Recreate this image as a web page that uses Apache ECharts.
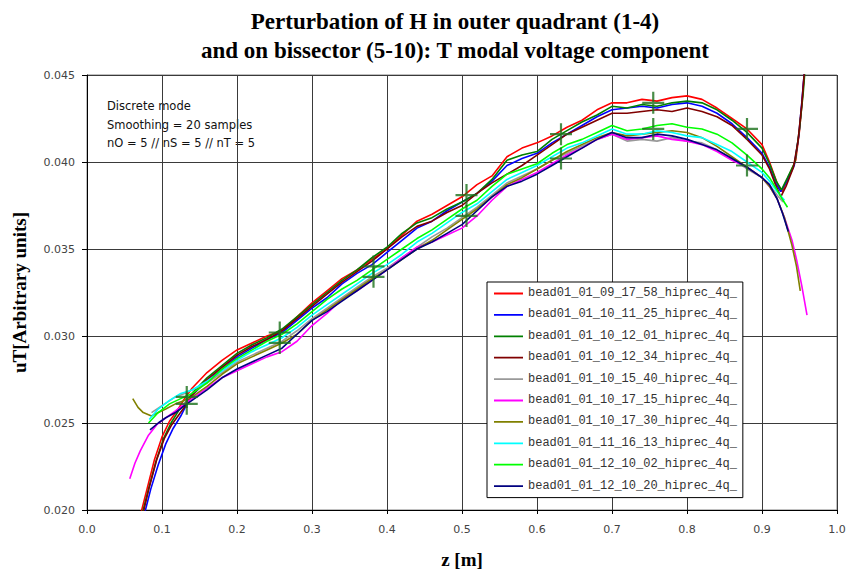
<!DOCTYPE html>
<html lang="en">
<head>
    <meta charset="UTF-8">
    <title>T modal voltage component</title>
    <script src="https://cdn.jsdelivr.net/npm/echarts@6/dist/echarts.min.js"></script>
    <style>
        *{ margin: 0; padding: 0; }
        body{ background-color: #fff; overflow: hidden; }
        #main{ width: 850px; height: 574px; }
    </style>
</head>
<body>
<div id="main"></div>
<script>
    // shared z positions [m] of the middle part of every curve
    var zBody = [0.14,0.16,0.18,0.20,0.22,0.24,0.26,0.28,0.30,0.32,0.34,0.36,0.38,0.40,0.42,0.44,0.46,0.48,0.50,
                 0.52,0.54,0.56,0.58,0.60,0.62,0.64,0.66,0.68,0.70,0.72,0.74,0.76,0.78,0.80,0.82,0.84,0.86,0.88,0.90];

    // outer quadrant runs (1-4)
    var redHead = [[0.07,0.0195],[0.08,0.0212],[0.09,0.0229],[0.10,0.0242],[0.11,0.0251],[0.12,0.0257],[0.13,0.0264]];
    var redBody = [0.0270,0.0279,0.0286,0.0292,0.0296,0.0300,0.0303,0.0311,0.0319,0.0326,0.0333,0.0338,0.0344,0.0350,0.0358,0.0366,0.0370,0.0375,0.0380,
                   0.0387,0.0392,0.0403,0.0408,0.0411,0.0415,0.0420,0.0424,0.0430,0.0434,0.0434,0.0436,0.0435,0.0437,0.0438,0.0436,0.0431,0.0425,0.0419,0.0410];
    var redTail = [[0.91,0.0400],[0.92,0.0388],[0.927,0.0383],[0.935,0.0391],[0.945,0.0401],[0.950,0.0418],[0.954,0.0437],[0.958,0.0460]];

    var blueHead = [[0.075,0.0195],[0.085,0.0212],[0.095,0.0226],[0.105,0.0238],[0.115,0.0247],[0.125,0.0254],[0.132,0.0260]];
    var blueBody = [0.0266,0.0274,0.0281,0.0288,0.0293,0.0298,0.0302,0.0309,0.0316,0.0322,0.0330,0.0336,0.0341,0.0348,0.0355,0.0362,0.0366,0.0372,0.0377,
                    0.0382,0.0389,0.0398,0.0402,0.0405,0.0411,0.0416,0.0421,0.0426,0.0430,0.0431,0.0432,0.0431,0.0433,0.0434,0.0432,0.0428,0.0422,0.0414,0.0405];
    var blueTail = [[0.91,0.0397],[0.918,0.0388],[0.925,0.0383],[0.933,0.0389],[0.943,0.0398],[0.949,0.0415],[0.953,0.0434],[0.958,0.0460]];

    var greenHead = [[0.072,0.0195],[0.082,0.0212],[0.092,0.0228],[0.102,0.0241],[0.112,0.0250],[0.122,0.0257],[0.132,0.0262]];
    var greenBody = [0.0267,0.0276,0.0283,0.0290,0.0295,0.0299,0.0304,0.0311,0.0318,0.0325,0.0332,0.0338,0.0345,0.0351,0.0359,0.0365,0.0368,0.0373,0.0377,
                     0.0382,0.0390,0.0401,0.0404,0.0406,0.0413,0.0418,0.0423,0.0427,0.0432,0.0431,0.0433,0.0432,0.0434,0.0435,0.0434,0.0430,0.0424,0.0417,0.0408];
    var greenTail = [[0.91,0.0399],[0.919,0.0389],[0.926,0.0384],[0.934,0.0391],[0.944,0.0400],[0.950,0.0419],[0.955,0.0440],[0.959,0.0462]];

    var brownHead = [[0.073,0.0195],[0.083,0.0213],[0.093,0.0229],[0.103,0.0241],[0.113,0.0249],[0.123,0.0255],[0.133,0.0261]];
    var brownBody = [0.0266,0.0275,0.0282,0.0289,0.0294,0.0298,0.0303,0.0310,0.0317,0.0324,0.0331,0.0337,0.0343,0.0350,0.0357,0.0363,0.0366,0.0371,0.0375,
                     0.0382,0.0388,0.0393,0.0398,0.0404,0.0410,0.0416,0.0420,0.0424,0.0428,0.0428,0.0429,0.0430,0.0429,0.0431,0.0429,0.0426,0.0421,0.0413,0.0404];
    var brownTail = [[0.91,0.0396],[0.918,0.0387],[0.925,0.0380],[0.932,0.0386],[0.942,0.0397],[0.948,0.0412],[0.953,0.0433],[0.958,0.0460]];

    // bissector runs (5-10)
    var grayHead = [[0.086,0.0256],[0.10,0.0260],[0.118,0.0265],[0.13,0.0267]];
    var grayBody = [0.0269,0.0273,0.0279,0.0285,0.0289,0.0293,0.0297,0.0303,0.0310,0.0316,0.0322,0.0328,0.0334,0.0339,0.0345,0.0351,0.0357,0.0362,0.0368,
                    0.0374,0.0381,0.0388,0.0392,0.0396,0.0401,0.0405,0.0409,0.0413,0.0416,0.0412,0.0413,0.0412,0.0414,0.0412,0.0411,0.0407,0.0402,0.0396,0.0391];
    var grayTail = [[0.91,0.0387],[0.92,0.0381],[0.928,0.0377]];

    var magentaHead = [[0.057,0.0218],[0.064,0.0227],[0.071,0.0234],[0.082,0.0243],[0.093,0.0249],[0.105,0.0253],[0.118,0.0257],[0.13,0.0261]];
    var magentaBody = [0.0264,0.0270,0.0276,0.0280,0.0284,0.0288,0.0291,0.0297,0.0306,0.0313,0.0321,0.0326,0.0332,0.0338,0.0345,0.0351,0.0354,0.0358,0.0362,
                       0.0369,0.0378,0.0386,0.0390,0.0394,0.0399,0.0404,0.0408,0.0413,0.0416,0.0413,0.0414,0.0415,0.0413,0.0412,0.0410,0.0406,0.0401,0.0397,0.0391];
    var magentaTail = [[0.91,0.0386],[0.92,0.0379],[0.93,0.0368],[0.94,0.0355],[0.946,0.0344],[0.953,0.0329],[0.96,0.0312]];

    var oliveHead = [[0.061,0.0264],[0.068,0.0259],[0.075,0.0256],[0.086,0.0254],[0.095,0.0256],[0.105,0.0258],[0.118,0.0261],[0.13,0.0263]];
    var oliveBody = [0.0265,0.0271,0.0278,0.0284,0.0288,0.0292,0.0296,0.0301,0.0309,0.0315,0.0321,0.0327,0.0333,0.0338,0.0344,0.0350,0.0355,0.0361,0.0367,
                     0.0373,0.0380,0.0387,0.0391,0.0396,0.0401,0.0406,0.0410,0.0414,0.0417,0.0415,0.0416,0.0417,0.0418,0.0417,0.0414,0.0409,0.0403,0.0397,0.0391];
    var oliveTail = [[0.91,0.0386],[0.92,0.0379],[0.93,0.0368],[0.94,0.0352],[0.946,0.0340],[0.951,0.0326]];

    var cyanHead = [[0.083,0.0252],[0.095,0.0258],[0.11,0.0263],[0.125,0.0267]];
    var cyanBody = [0.0269,0.0274,0.0280,0.0286,0.0291,0.0295,0.0299,0.0305,0.0312,0.0318,0.0324,0.0330,0.0336,0.0341,0.0347,0.0354,0.0359,0.0365,0.0371,
                    0.0376,0.0383,0.0390,0.0394,0.0398,0.0403,0.0408,0.0411,0.0415,0.0419,0.0416,0.0416,0.0418,0.0417,0.0415,0.0414,0.0410,0.0406,0.0400,0.0394];
    var cyanTail = [[0.91,0.0389],[0.92,0.0383],[0.93,0.0378]];

    var limeHead = [[0.082,0.0250],[0.095,0.0256],[0.11,0.0261],[0.125,0.0264]];
    var limeBody = [0.0267,0.0273,0.0281,0.0287,0.0292,0.0297,0.0301,0.0307,0.0314,0.0321,0.0327,0.0332,0.0338,0.0344,0.0350,0.0356,0.0361,0.0367,0.0373,
                    0.0378,0.0386,0.0393,0.0396,0.0399,0.0405,0.0410,0.0413,0.0417,0.0421,0.0418,0.0419,0.0421,0.0422,0.0420,0.0419,0.0416,0.0411,0.0404,0.0396];
    var limeTail = [[0.91,0.0391],[0.92,0.0384],[0.928,0.0378],[0.934,0.0374]];

    var navyHead = [[0.084,0.0246],[0.095,0.0250],[0.105,0.0253],[0.118,0.0256],[0.13,0.0260]];
    var navyBody = [0.0263,0.0269,0.0276,0.0281,0.0285,0.0289,0.0293,0.0301,0.0309,0.0314,0.0320,0.0326,0.0332,0.0338,0.0344,0.0350,0.0354,0.0359,0.0364,
                    0.0372,0.0380,0.0386,0.0389,0.0393,0.0398,0.0403,0.0408,0.0413,0.0417,0.0414,0.0414,0.0416,0.0415,0.0413,0.0410,0.0407,0.0402,0.0397,0.0391];
    var navyTail = [[0.91,0.0387],[0.92,0.0379],[0.927,0.0371],[0.935,0.0360]];

    // perturbation position markers
    var crossZ = [0.133,0.257,0.382,0.506,0.632,0.755,0.880];
    var crossUpper = [0.0265,0.0302,0.0340,0.0381,0.0416,0.0434,0.0419];
    var crossLower = [0.0261,0.0296,0.0334,0.0369,0.0402,0.0419,0.0398];

    var names = ['bead01_01_09_17_58_hiprec_4q_','bead01_01_10_11_25_hiprec_4q_','bead01_01_10_12_01_hiprec_4q_',
                 'bead01_01_10_12_34_hiprec_4q_','bead01_01_10_15_40_hiprec_4q_','bead01_01_10_17_15_hiprec_4q_',
                 'bead01_01_10_17_30_hiprec_4q_','bead01_01_11_16_13_hiprec_4q_','bead01_01_12_10_02_hiprec_4q_',
                 'bead01_01_12_10_20_hiprec_4q_'];
    var colors = ['#FF0000','#0000FF','#008000','#800000','#999999','#FF00FF','#808000','#00FFFF','#00FF00','#000080'];
    var parts = [
        [redHead, redBody, redTail], [blueHead, blueBody, blueTail], [greenHead, greenBody, greenTail],
        [brownHead, brownBody, brownTail], [grayHead, grayBody, grayTail], [magentaHead, magentaBody, magentaTail],
        [oliveHead, oliveBody, oliveTail], [cyanHead, cyanBody, cyanTail], [limeHead, limeBody, limeTail],
        [navyHead, navyBody, navyTail]
    ];

    function build(head, body, tail) {
        var pts = head.slice();
        for (var i = 0; i < zBody.length; i++) {
            pts.push([zBody[i], body[i]]);
        }
        return pts.concat(tail);
    }

    var series = [];
    for (var i = 0; i < names.length; i++) {
        series.push({
            name: names[i],
            type: 'line',
            symbol: 'none',
            showSymbol: false,
            color: colors[i],
            lineStyle: { width: 1.6, color: colors[i] },
            data: build(parts[i][0], parts[i][1], parts[i][2])
        });
    }
    var plus = 'path://M9,0h2v9h9v2h-9v9h-2v-9h-9v-2h9z';
    function crossData(vals) {
        var d = [];
        for (var i = 0; i < crossZ.length; i++) d.push([crossZ[i], vals[i]]);
        return d;
    }
    series.push({ type: 'scatter', symbol: plus, symbolSize: 22, itemStyle: { color: '#1A701A' }, data: crossData(crossUpper), z: 3 });
    series.push({ type: 'scatter', symbol: plus, symbolSize: 22, itemStyle: { color: '#1A701A' }, data: crossData(crossLower), z: 3 });

    // legend icon: a thin horizontal stroke, tiny corner dots keep the full box height
    var lineIcon = 'path://M0,0h0.01v0.01h-0.01z M0,6.6h29v1.8h-29z M0,13.99h0.01v0.01h-0.01z';
    var titleFont = 'bold 23px "Liberation Serif"';

    var myChart = echarts.init(document.getElementById('main'), null, { renderer: 'svg' });

    var option = {
        animation: false,
        backgroundColor: '#fff',
        grid: { left: 87, right: 13, top: 75, bottom: 62, show: true, borderColor: '#808080', borderWidth: 1 },
        graphic: [
            { type: 'text', x: 455, y: 10, style: { text: 'Perturbation of H in outer quadrant (1-4)', fill: '#000',
                font: titleFont, align: 'center', textAlign: 'center', verticalAlign: 'top' } },
            { type: 'text', x: 455, y: 39, style: { text: 'and on bissector (5-10): T modal voltage component', fill: '#000',
                font: titleFont, align: 'center', textAlign: 'center', verticalAlign: 'top' } },
            { type: 'text', left: 107, top: 97, style: { text: 'Discrete mode\nSmoothing = 20 samples\nnO = 5 // nS = 5 // nT = 5',
                fill: '#111', font: '11.5px "DejaVu Sans"', lineHeight: 18.5 } }
        ],
        legend: {
            data: names,
            icon: lineIcon,
            orient: 'vertical',
            left: 487,
            top: 282,
            width: 260,
            padding: [4, 6, 5, 7],
            itemWidth: 29,
            itemHeight: 14,
            itemGap: 7.4,
            backgroundColor: '#fff',
            borderColor: '#000',
            borderWidth: 1,
            borderRadius: 0,
            textStyle: { fontFamily: 'Liberation Mono', fontSize: 12, color: '#333' }
        },
        xAxis: {
            type: 'value',
            min: 0,
            max: 1,
            interval: 0.1,
            name: 'z [m]',
            nameLocation: 'middle',
            nameGap: 40,
            nameTextStyle: { fontFamily: 'Liberation Serif', fontWeight: 'bold', fontSize: 19, color: '#000' },
            axisLine: { onZero: false, lineStyle: { color: '#000', width: 1 } },
            axisTick: { show: true, length: 4, lineStyle: { color: '#000' } },
            axisLabel: { margin: 14, color: '#444', fontFamily: 'DejaVu Sans', fontSize: 11,
                formatter: function (v) { return v.toFixed(1); } },
            splitLine: { show: true, lineStyle: { color: '#3a3a3a', width: 1 } }
        },
        yAxis: {
            type: 'value',
            min: 0.020,
            max: 0.045,
            interval: 0.005,
            name: 'uT[Arbitrary units]',
            nameLocation: 'middle',
            nameGap: 58,
            nameTextStyle: { fontFamily: 'Liberation Serif', fontWeight: 'bold', fontSize: 19, color: '#000' },
            axisLine: { show: true, onZero: false, lineStyle: { color: '#000', width: 1 } },
            axisTick: { show: true, length: 5, lineStyle: { color: '#000' } },
            axisLabel: { margin: 12, color: '#444', fontFamily: 'DejaVu Sans', fontSize: 11,
                formatter: function (v) { return v.toFixed(3); } },
            splitLine: { show: true, lineStyle: { color: '#3a3a3a', width: 1 } }
        },
        series: series
    };

    myChart.setOption(option);
    window.onresize = myChart.resize;
</script>
</body>
</html>
